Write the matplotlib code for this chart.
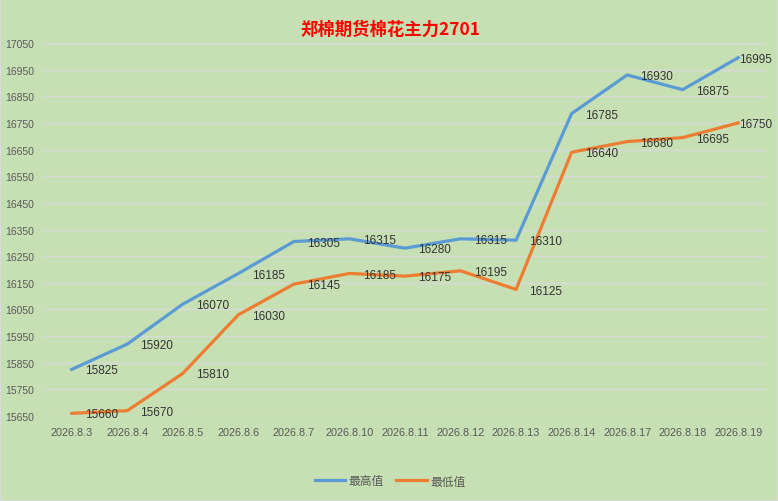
import matplotlib.pyplot as plt
import numpy as np

plt.rcParams['font.family'] = ['Liberation Sans', 'Noto Sans CJK SC', 'DejaVu Sans']

dates = ["2026.8.3", "2026.8.4", "2026.8.5", "2026.8.6", "2026.8.7", "2026.8.10",
         "2026.8.11", "2026.8.12", "2026.8.13", "2026.8.14", "2026.8.17",
         "2026.8.18", "2026.8.19"]
high = [15825, 15920, 16070, 16185, 16305, 16315, 16280, 16315, 16310, 16785,
        16930, 16875, 16995]
low = [15660, 15670, 15810, 16030, 16145, 16185, 16175, 16195, 16125, 16640,
       16680, 16695, 16750]
yticks = list(range(15650, 17051, 100))

BG = "#C6E0B4"
BLUE = "#5B9BD5"
ORANGE = "#ED7D31"

fig = plt.figure(figsize=(7.78, 5.02), dpi=100, facecolor=BG)
ax = fig.add_axes([44 / 778, 1 - 417 / 502, 722 / 778, 373 / 502])
ax.set_facecolor(BG)

x = np.arange(len(dates))
ax.plot(x, high, color=BLUE, lw=2.3, label="最高值", solid_joinstyle="round", zorder=3)
ax.plot(x, low, color=ORANGE, lw=2.3, label="最低值", solid_joinstyle="round", zorder=3)

# data labels to the right of each point; the last one hugs the point so it fits
for series in (high, low):
    for xi, v in zip(x, series):
        dx = 0.8 if xi == len(dates) - 1 else 9.5
        ax.annotate(str(v), (xi, v), xytext=(dx, -0.8), textcoords="offset points",
                    va="center", ha="left", fontsize=8.5, color="#333333", zorder=4)

ax.set_xlim(-0.5, len(dates) - 0.5)
ax.set_ylim(15650, 17050)
ax.set_yticks(yticks)
ax.set_yticklabels([str(t) for t in yticks])
ax.set_xticks(x)
ax.set_xticklabels(dates)
ax.tick_params(length=0, labelsize=7.5, labelcolor="#595959")
ax.tick_params(axis="x", pad=8, labelsize=7.8)
ax.tick_params(axis="y", pad=7)
ax.grid(axis="y", color="#D9D9D9", lw=1)
ax.set_axisbelow(True)
for s in ax.spines.values():
    s.set_visible(False)

fig.text(390 / 778, 1 - 30 / 502, "郑棉期货棉花主力2701", color="#FF0000",
         fontsize=12.5, fontweight="bold", ha="center", va="center",
         family=['Noto Sans CJK SC', 'DejaVu Sans'])

fig.legend(loc="center", bbox_to_anchor=(390 / 778, 1 - 482 / 502), ncol=2,
           frameon=False, handlelength=2.6, columnspacing=1.0,
           handletextpad=0.3, labelcolor="#595959",
           prop={'family': ['Noto Sans CJK SC', 'DejaVu Sans'], 'size': 8.5})

fig.patches.append(plt.Rectangle((0, 0), 1, 1, transform=fig.transFigure,
                                 fill=False, edgecolor="#D9D9D9", lw=1.5))

fig.savefig("out.png", dpi=100, facecolor=BG)
